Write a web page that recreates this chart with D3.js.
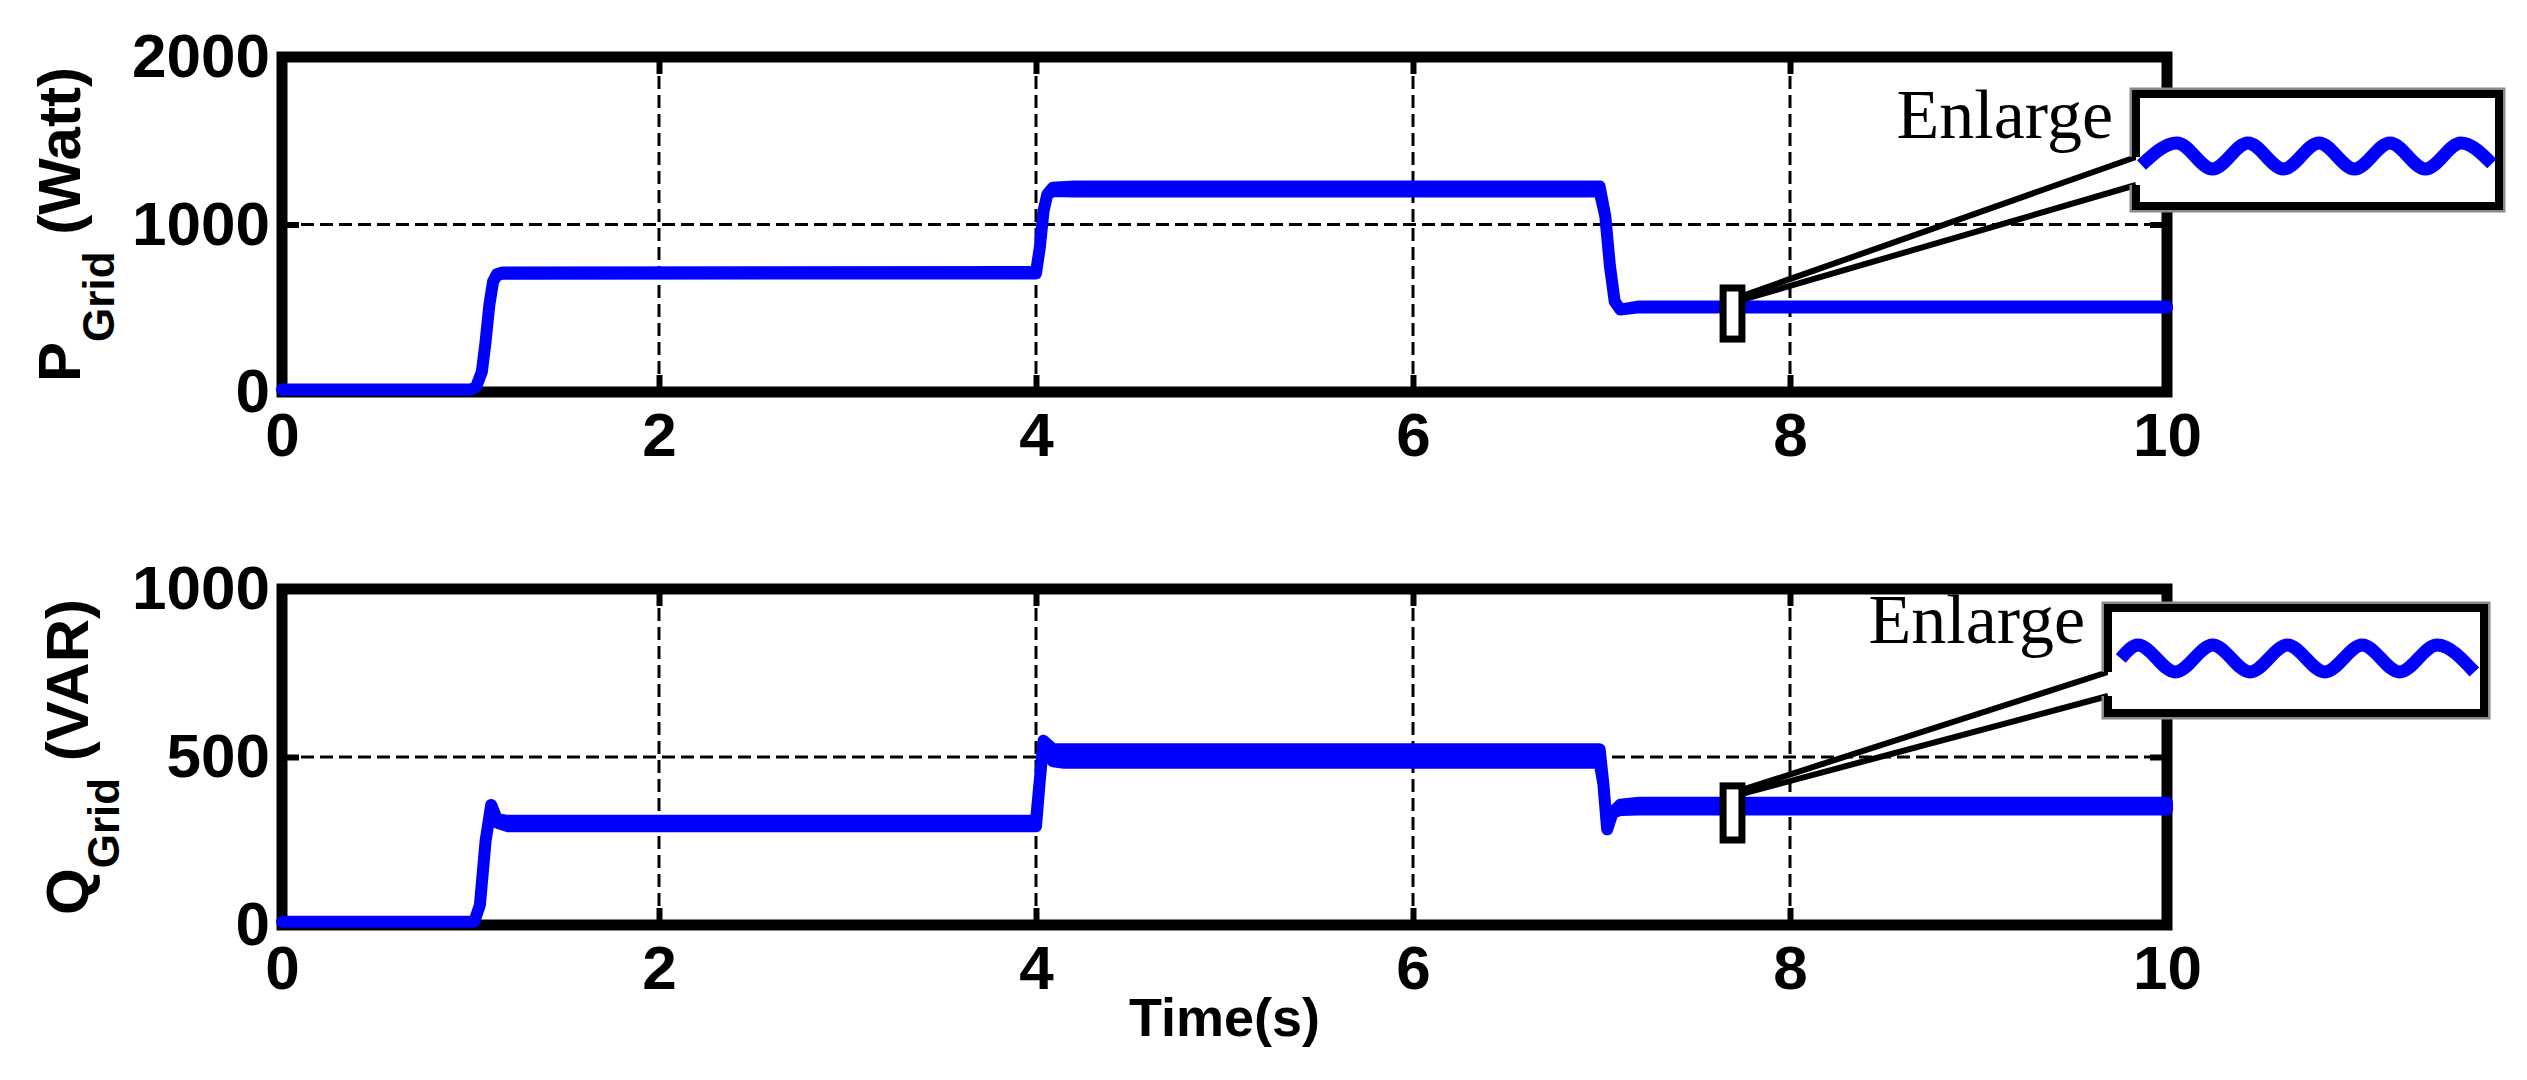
<!DOCTYPE html>
<html><head><meta charset="utf-8">
<script src="https://cdn.jsdelivr.net/npm/d3@7"></script>
<style>html,body{margin:0;padding:0;background:#fff;} svg{display:block;}</style>
</head><body>
<svg id="chart" width="2527" height="1080"></svg>
<script>
// ---------------- data ----------------
const timeTicks = [0, 2, 4, 6, 8, 10];
const pTicks = [0, 1000, 2000];
const qTicks = [0, 500, 1000];

const pTime   = [0, 1.00, 1.03, 1.06, 1.08, 1.10, 1.12, 1.14, 1.17, 4.00, 4.02, 4.04, 4.06, 4.09, 4.20, 6.99, 7.02, 7.045, 7.07, 7.10, 7.20, 10];
const pValue  = [15, 15, 30, 120, 300, 520, 660, 700, 710, 712, 860, 1080, 1180, 1210, 1212, 1212, 1050, 750, 540, 492, 508, 508];
const pRipple = [0, 0, 0, 0, 0, 0, 0, 3, 4, 4, 0, 0, 0, 10, 15, 15, 0, 0, 0, 0, 3, 3];

const qTime   = [0, 1.02, 1.05, 1.08, 1.11, 1.14, 1.20, 4.00, 4.02, 4.04, 4.06, 4.09, 4.15, 6.99, 7.01, 7.03, 7.06, 7.10, 7.20, 10];
const qValue  = [10, 10, 60, 250, 357, 310, 302, 302, 430, 548, 530, 505, 503, 503, 420, 285, 335, 350, 354, 354];
const qRipple = [0, 0, 0, 0, 0, 5, 8, 8, 0, 0, 8, 18, 20, 20, 0, 0, 0, 8, 10, 10];

// zoom-window markers: [t start, t end, value low, value high]
const markerP = [7.645, 7.745, 316, 621];
const markerQ = [7.645, 7.745, 253, 414];

// enlarged ripple (half-period index, normalised level)
const waveP_phase = [0, 1, 2, 3, 4, 5, 6, 7, 8, 9, 9.87];
const waveP_level = [-0.7, 1, -1, 1, -1, 1, -1, 1, -1, 1, -0.6];
const waveQ_phase = [0.54, 1, 2, 3, 4, 5, 6, 7, 8, 9, 10];
const waveQ_level = [0, 1, -1, 1, -1, 1, -1, 1, -1, 1, -1];

const yLabelP = ["P", "Grid", " (Watt)"];
const yLabelQ = ["Q", "Grid", " (VAR)"];
const xLabel = "Time(s)";
const zoomText = "Enlarge";

// ---------------- drawing ----------------
const svg = d3.select("#chart");
svg.append("rect").attr("width", 2527).attr("height", 1080).attr("fill", "#fff");

const X0 = 282, X1 = 2167;
const x = d3.scaleLinear([0, 10], [X0, X1]);
const yP = d3.scaleLinear([0, 2000], [392, 57]);
const yQ = d3.scaleLinear([0, 1000], [925, 589]);

const SANS = "'Liberation Sans', Arial, Helvetica, sans-serif";
const SERIF = "'Liberation Serif', 'Times New Roman', serif";
const BLUE = "#0000ff";

function drawPanel(cfg) {
  const { y, yTicks, time, value, ripple, label, labelX, subShift, marker, box, wave, text } = cfg;
  const [yb, yt] = y.range();
  const g = svg.append("g");

  // grid
  g.selectAll("line.vg").data(timeTicks.filter(t => t > 0 && t < 10)).join("line")
    .attr("x1", d => x(d)).attr("x2", d => x(d)).attr("y1", yt).attr("y2", yb)
    .attr("stroke", "#000").attr("stroke-width", 3).attr("stroke-dasharray", "13 6");
  g.selectAll("line.hg").data(yTicks.filter((t, i) => i > 0 && i < yTicks.length - 1)).join("line")
    .attr("x1", X0).attr("x2", X1).attr("y1", d => y(d)).attr("y2", d => y(d))
    .attr("stroke", "#000").attr("stroke-width", 3).attr("stroke-dasharray", "13 6");

  const styleAxis = sel => {
    sel.select(".domain").remove();
    sel.attr("font-family", SANS).attr("font-size", 62).attr("font-weight", "bold");
    sel.selectAll(".tick line").attr("stroke", "#000").attr("stroke-width", 6);
    sel.selectAll(".tick text").attr("fill", "#000");
  };
  g.append("g").attr("transform", `translate(0,${yb})`)
    .call(d3.axisBottom(x).tickValues(timeTicks).tickSizeInner(-17).tickSizeOuter(0).tickPadding(20).tickFormat(d3.format("d")))
    .call(styleAxis);
  g.append("g").attr("transform", `translate(0,${yt})`)
    .call(d3.axisTop(x).tickValues(timeTicks).tickSizeInner(-17).tickSizeOuter(0).tickFormat(""))
    .call(styleAxis);
  g.append("g").attr("transform", `translate(${X0},0)`)
    .call(d3.axisLeft(y).tickValues(yTicks).tickSizeInner(-17).tickSizeOuter(0).tickPadding(12).tickFormat(d3.format("d")))
    .call(styleAxis);
  g.append("g").attr("transform", `translate(${X1},0)`)
    .call(d3.axisRight(y).tickValues(yTicks).tickSizeInner(-17).tickSizeOuter(0).tickFormat(""))
    .call(styleAxis);

  // frame
  g.append("rect").attr("x", X0).attr("y", yt).attr("width", X1 - X0).attr("height", yb - yt)
    .attr("fill", "none").attr("stroke", "#000").attr("stroke-width", 11);

  // data trace (line with ripple envelope)
  const idx = d3.range(time.length);
  const area = d3.area().x(i => x(time[i])).y0(i => y(value[i] - ripple[i])).y1(i => y(value[i] + ripple[i]));
  g.append("path").attr("d", area(idx)).attr("fill", BLUE).attr("stroke", BLUE)
    .attr("stroke-width", 12).attr("stroke-linejoin", "round");

  // zoom marker
  const mx0 = x(marker[0]), mx1 = x(marker[1]), my0 = y(marker[3]), my1 = y(marker[2]);
  g.append("rect").attr("x", mx0).attr("y", my0).attr("width", mx1 - mx0).attr("height", my1 - my0)
    .attr("fill", "#fff").attr("stroke", "#000").attr("stroke-width", 7);

  // connectors
  const cx = mx1, cy = my0 + box.conn;
  g.append("line").attr("x1", cx).attr("y1", cy).attr("x2", box.L).attr("y2", box.n0)
    .attr("stroke", "#000").attr("stroke-width", 6);
  g.append("line").attr("x1", cx).attr("y1", cy + 4).attr("x2", box.L).attr("y2", box.n1)
    .attr("stroke", "#000").attr("stroke-width", 6);

  // inset box
  const boxPath = `M${box.L},${box.n0}V${box.T}H${box.R}V${box.B}H${box.L}V${box.n1}`;
  g.append("path").attr("d", boxPath).attr("fill", "#fff").attr("stroke", "#8a8a8a").attr("stroke-width", 13);
  g.append("path").attr("d", boxPath).attr("fill", "#fff").attr("stroke", "#000").attr("stroke-width", 8);

  // enlarged wave
  const wx = d3.scaleLinear([1, 9], wave.xr);
  const wy = d3.scaleLinear([-1, 1], wave.yr);
  const wline = d3.line().x(i => wx(wave.phase[i])).y(i => wy(wave.level[i])).curve(d3.curveMonotoneX);
  g.append("path").attr("d", wline(d3.range(wave.phase.length))).attr("fill", "none")
    .attr("stroke", BLUE).attr("stroke-width", 13).attr("stroke-linecap", "butt");

  // "Enlarge"
  g.append("text").attr("x", text.x).attr("y", text.y).attr("text-anchor", "end")
    .attr("font-family", SERIF).attr("font-size", 70).attr("fill", "#000").text(zoomText);

  // y label
  const lab = g.append("text").attr("transform", `translate(${labelX},${(yt + yb) / 2}) rotate(-90)`)
    .attr("text-anchor", "middle").attr("font-family", SANS).attr("font-weight", "bold")
    .attr("font-size", 60).attr("fill", "#000");
  lab.append("tspan").text(label[0]);
  lab.append("tspan").attr("font-size", 44).attr("dy", subShift).text(label[1]);
  lab.append("tspan").attr("font-size", 60).attr("dy", -subShift).text(label[2]);
}

drawPanel({
  y: yP, yTicks: pTicks, time: pTime, value: pValue, ripple: pRipple,
  label: yLabelP, labelX: 80, subShift: 34, marker: markerP,
  box: { L: 2136, R: 2499, T: 94, B: 206, n0: 157, n1: 185, conn: 8 },
  wave: { phase: waveP_phase, level: waveP_level, xr: [2177, 2461], yr: [169, 143] },
  text: { x: 2113, y: 138 }
});
drawPanel({
  y: yQ, yTicks: qTicks, time: qTime, value: qValue, ripple: qRipple,
  label: yLabelQ, labelX: 88, subShift: 31, marker: markerQ,
  box: { L: 2108, R: 2484, T: 608, B: 713, n0: 672, n1: 696, conn: 4 },
  wave: { phase: waveQ_phase, level: waveQ_level, xr: [2138, 2437], yr: [672, 645] },
  text: { x: 2085, y: 643 }
});

svg.append("text").attr("x", (X0 + X1) / 2).attr("y", 1036).attr("text-anchor", "middle")
  .attr("font-family", SANS).attr("font-weight", "bold").attr("font-size", 54).attr("fill", "#000")
  .text(xLabel);
</script>
</body></html>
